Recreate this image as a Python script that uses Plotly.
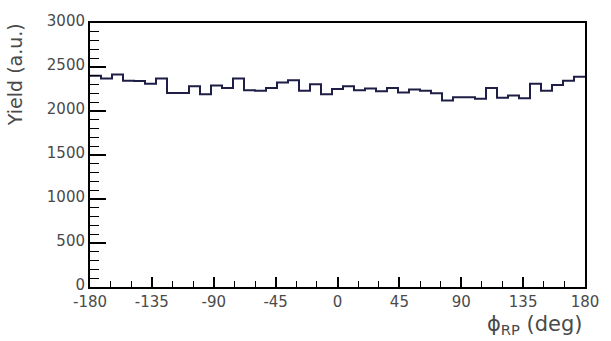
import plotly.graph_objects as go

# Azimuthal distribution relative to the reaction plane: 45 bins of 8 deg
phi_low = -180.0
phi_high = 180.0
n_bins = 45
yield_counts = [
    2400, 2370, 2415, 2345, 2340, 2310, 2370, 2205, 2205, 2280,
    2190, 2290, 2260, 2370, 2235, 2230, 2260, 2325, 2350, 2230,
    2305, 2190, 2250, 2280, 2235, 2255, 2225, 2260, 2210, 2245,
    2230, 2202, 2120, 2155, 2155, 2140, 2260, 2150, 2175, 2145,
    2310, 2230, 2295, 2345, 2390,
]
x_tick_vals = [-180, -135, -90, -45, 0, 45, 90, 135, 180]
y_tick_vals = [0, 500, 1000, 1500, 2000, 2500, 3000]

bin_width = (phi_high - phi_low) / n_bins
edges = [phi_low + i * bin_width for i in range(n_bins + 1)]
step_y = yield_counts + [yield_counts[-1]]

fig = go.Figure()
fig.add_trace(go.Scatter(
    x=edges, y=step_y, mode="lines",
    line=dict(shape="hv", color="#1e1e46", width=2),
    hoverinfo="skip", showlegend=False,
))

tick_font = dict(family="DejaVu Sans", size=15, color="#4a4a4a")
title_font = dict(family="DejaVu Sans", size=19, color="#4a4a4a")

fig.update_layout(
    width=611, height=341,
    margin=dict(l=90, r=20, t=14, b=54),
    paper_bgcolor="white", plot_bgcolor="white",
    xaxis=dict(
        range=[phi_low, phi_high], tickmode="array", tickvals=x_tick_vals,
        ticktext=[str(v) for v in x_tick_vals],
        ticks="inside", ticklen=10, tickwidth=1.5, tickcolor="black",
        minor=dict(dtick=15, tick0=-180, ticks="inside", ticklen=6,
                   tickwidth=1.2, tickcolor="black", showgrid=False),
        showline=True, linecolor="black", linewidth=2, mirror=True,
        showgrid=False, zeroline=False, tickfont=tick_font,
    ),
    yaxis=dict(
        range=[0, 3000], tickmode="array", tickvals=y_tick_vals,
        ticktext=[str(v) for v in y_tick_vals],
        ticks="inside", ticklen=16, tickwidth=1.5, tickcolor="black",
        minor=dict(dtick=100, tick0=0, ticks="inside", ticklen=9,
                   tickwidth=1.2, tickcolor="black", showgrid=False),
        showline=True, linecolor="black", linewidth=2, mirror=True,
        showgrid=False, zeroline=False, tickfont=tick_font,
        ticklabelshift=-2,
    ),
    annotations=[
        dict(text="Yield (a.u.)", textangle=-90, xref="paper", yref="paper",
             x=-0.15, y=1.008, xanchor="center", yanchor="top",
             showarrow=False, font=title_font),
        dict(text="ϕ<sub>RP</sub> (deg)", xref="paper", yref="paper",
             x=1.0, y=-0.088, xanchor="right", yanchor="top",
             showarrow=False, font=dict(family="DejaVu Sans", size=21,
                                        color="#4a4a4a")),
    ],
)

fig.write_html("out.html")
